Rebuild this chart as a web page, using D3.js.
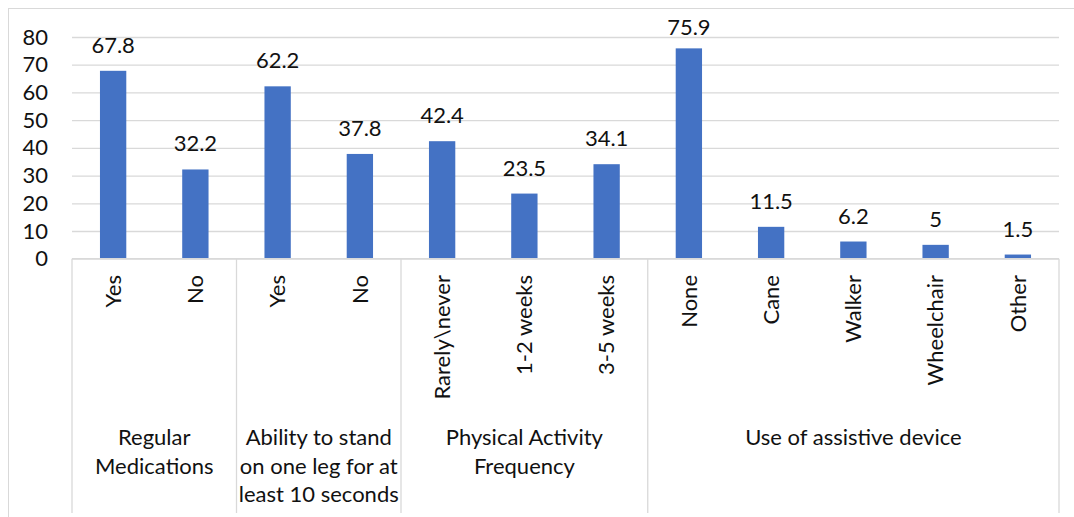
<!DOCTYPE html>
<html>
<head>
<meta charset="utf-8">
<script src="https://cdn.jsdelivr.net/npm/d3@7"></script>
<style>
  html, body { margin: 0; padding: 0; background: #fff; }
  svg { display: block; font-family: Lato, "Open Sans", sans-serif; }
</style>
</head>
<body>
<svg id="chart" width="1074" height="517"></svg>
<script>
// Survey responses (%) by category, grouped under four questions
const categories = ["Yes", "No", "Yes", "No", "Rarely\\never", "1-2 weeks", "3-5 weeks",
                    "None", "Cane", "Walker", "Wheelchair", "Other"];
const values = [67.8, 32.2, 62.2, 37.8, 42.4, 23.5, 34.1, 75.9, 11.5, 6.2, 5, 1.5];
const groupSizes = [2, 2, 3, 5];
const groupLabels = [
  ["Regular", "Medications"],
  ["Ability to stand", "on one leg for at", "least 10 seconds"],
  ["Physical Activity", "Frequency"],
  ["Use of assistive device"]
];
const yTicks = [0, 10, 20, 30, 40, 50, 60, 70, 80];

const svg = d3.select("#chart");
const W = 1074, H = 517;
const plot = { left: 72, right: 1059, top: 37, bottom: 258.7 };
const fontSize = 22;
const textColor = "#111";
const gridColor = "#d9d9d9";
const barColor = "#4472C4";

// Outer chart frame (extends past the right/bottom edge of the view)
svg.append("rect")
  .attr("x", 8.5).attr("y", 8.5)
  .attr("width", W + 20).attr("height", H + 20)
  .attr("fill", "none").attr("stroke", gridColor).attr("stroke-width", 1);

const x = d3.scaleBand()
  .domain(d3.range(categories.length))
  .range([plot.left, plot.right])
  .paddingInner(0.68)
  .paddingOuter(0.34);

const y = d3.scaleLinear().domain([0, 80]).range([plot.bottom, plot.top]);

// Horizontal gridlines + value axis labels
const yAxis = svg.append("g")
  .attr("transform", `translate(${plot.left},0)`)
  .call(d3.axisLeft(y).tickValues(yTicks).tickSize(-(plot.right - plot.left)).tickPadding(24));
yAxis.select(".domain").remove();
yAxis.selectAll(".tick line").attr("stroke", gridColor).attr("stroke-width", 1.3);
yAxis.selectAll(".tick text")
  .attr("fill", textColor)
  .style("font-size", fontSize + "px")
  .style("font-family", "Lato, sans-serif");

// Bars
svg.append("g").selectAll("rect")
  .data(values)
  .join("rect")
  .attr("x", (d, i) => x(i))
  .attr("width", x.bandwidth())
  .attr("y", d => y(d))
  .attr("height", d => y(0) - y(d))
  .attr("fill", barColor);

// Value labels above the bars (kept inside the plot area)
svg.append("g").selectAll("text")
  .data(values)
  .join("text")
  .attr("x", (d, i) => x(i) + x.bandwidth() / 2)
  .attr("y", d => Math.max(y(d) - 18, 35))
  .attr("text-anchor", "middle")
  .attr("fill", textColor)
  .style("font-size", fontSize + "px")
  .text(d => d);

// Category axis: box lines along the baseline and between groups
const axisBottom = 513;
const step = x.step();
const bounds = [0];
groupSizes.forEach(n => bounds.push(bounds[bounds.length - 1] + n));
const bx = k => plot.left + k * step;

const axisG = svg.append("g");
axisG.append("line")
  .attr("x1", plot.left).attr("x2", plot.right)
  .attr("y1", y(0)).attr("y2", y(0))
  .attr("stroke", gridColor).attr("stroke-width", 1.3);
axisG.selectAll("line.sep")
  .data(bounds)
  .join("line")
  .attr("class", "sep")
  .attr("x1", d => bx(d)).attr("x2", d => bx(d))
  .attr("y1", y(0)).attr("y2", axisBottom)
  .attr("stroke", gridColor).attr("stroke-width", 1.3);

// Rotated category labels
svg.append("g").selectAll("text")
  .data(categories)
  .join("text")
  .attr("transform", (d, i) => `translate(${x(i) + x.bandwidth() / 2},275) rotate(-90)`)
  .attr("text-anchor", "end")
  .attr("dy", "0.35em")
  .attr("fill", textColor)
  .style("font-size", fontSize + "px")
  .text(d => d);

// Group labels
const gl = svg.append("g").selectAll("text")
  .data(groupLabels)
  .join("text")
  .attr("x", (d, i) => (bx(bounds[i]) + bx(bounds[i + 1])) / 2)
  .attr("y", 445)
  .attr("text-anchor", "middle")
  .attr("fill", textColor)
  .style("font-size", fontSize + "px");
gl.selectAll("tspan")
  .data(d => d)
  .join("tspan")
  .attr("x", function () { return d3.select(this.parentNode).attr("x"); })
  .attr("dy", (d, j) => j === 0 ? 0 : 28.5)
  .text(d => d);
</script>
</body>
</html>
